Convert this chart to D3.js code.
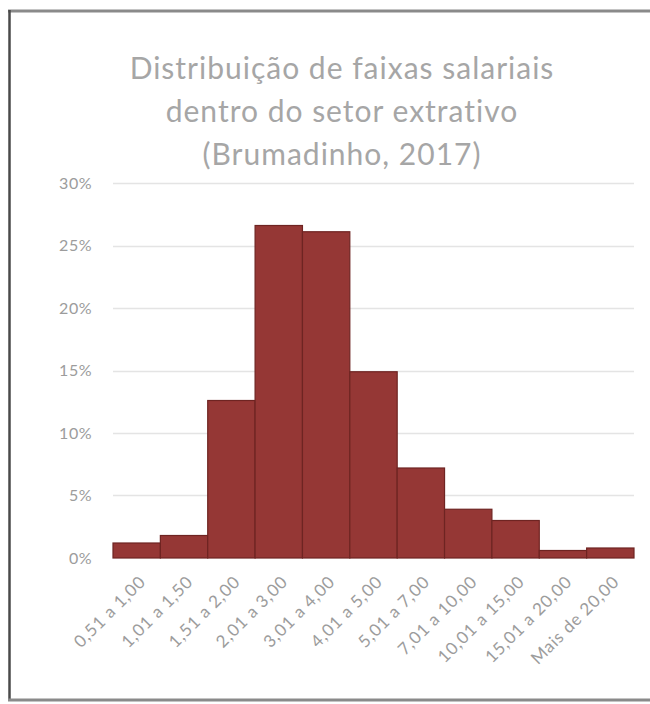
<!DOCTYPE html>
<html><head><meta charset="utf-8">
<script src="https://cdn.jsdelivr.net/npm/d3@7/dist/d3.min.js"></script>
<style>html,body{margin:0;background:#fff;overflow:hidden}svg{display:block}</style>
</head><body>
<script>
const categories = ["0,51 a 1,00","1,01 a 1,50","1,51 a 2,00","2,01 a 3,00","3,01 a 4,00","4,01 a 5,00","5,01 a 7,00","7,01 a 10,00","10,01 a 15,00","15,01 a 20,00","Mais de 20,00"];
const values = [0.012,0.018,0.126,0.266,0.261,0.149,0.072,0.039,0.030,0.006,0.008];
const yTicks = [0,0.05,0.10,0.15,0.20,0.25,0.30];
const titleLines = ["Distribuição de faixas salariais","dentro do setor extrativo","(Brumadinho, 2017)"];

const W=650,H=704;
const svg=d3.select("body").append("svg").attr("width",W).attr("height",H);
svg.append("rect").attr("width",W).attr("height",H).attr("fill","#fff");
// frame
svg.append("line").attr("x1",8).attr("x2",650).attr("y1",11).attr("y2",11).attr("stroke","#8a8a8a").attr("stroke-width",3);
svg.append("line").attr("x1",9.5).attr("x2",9.5).attr("y1",10).attr("y2",701).attr("stroke","#4a4a4a").attr("stroke-width",2.5);
svg.append("line").attr("x1",8).attr("x2",650).attr("y1",700).attr("y2",700).attr("stroke","#8a8a8a").attr("stroke-width",3);

const font="Lato, 'Open Sans', sans-serif";
svg.append("g").selectAll("text").data(titleLines).join("text")
  .attr("x",342).attr("y",(d,i)=>79+i*43)
  .attr("text-anchor","middle").attr("fill","#a6a6a6")
  .style("font-family",font).style("font-size","30px").style("letter-spacing","1px")
  .text(d=>d);

const x=d3.scaleBand().domain(categories).range([113,634]).padding(0);
const y=d3.scaleLinear().domain([0,0.30]).range([558,183]);

svg.append("g").selectAll("line").data(yTicks.slice(1)).join("line")
  .attr("x1",113).attr("x2",634).attr("y1",d=>Math.round(y(d))+0.5).attr("y2",d=>Math.round(y(d))+0.5)
  .attr("stroke","#e4e4e4").attr("stroke-width",1.5);

const yAxis=svg.append("g").attr("transform","translate(113,0)")
  .call(d3.axisLeft(y).tickValues(yTicks).tickFormat(d3.format(".0%")).tickSize(0).tickPadding(21));
yAxis.select(".domain").remove();
yAxis.selectAll("text").attr("fill","#9c9c9c").style("font-family",font).style("font-size","16px").style("letter-spacing","0.5px");

svg.append("g").selectAll("rect").data(values).join("rect")
  .attr("x",(d,i)=>x(categories[i])).attr("width",x.bandwidth())
  .attr("y",d=>y(d)).attr("height",d=>y(0)-y(d))
  .attr("fill","#953735").attr("stroke","#6e2422").attr("stroke-width",1.2);

const xAxis=svg.append("g").attr("transform","translate(0,558)")
  .call(d3.axisBottom(x).tickSize(0).tickPadding(0));
xAxis.select(".domain").remove();
xAxis.selectAll("text").attr("fill","#9c9c9c").style("font-family",font).style("font-size","17px").style("letter-spacing","0.8px")
  .attr("text-anchor","end").attr("dy",0).attr("y",0)
  .attr("transform","translate(10,25) rotate(-45)");
</script>
</body></html>
